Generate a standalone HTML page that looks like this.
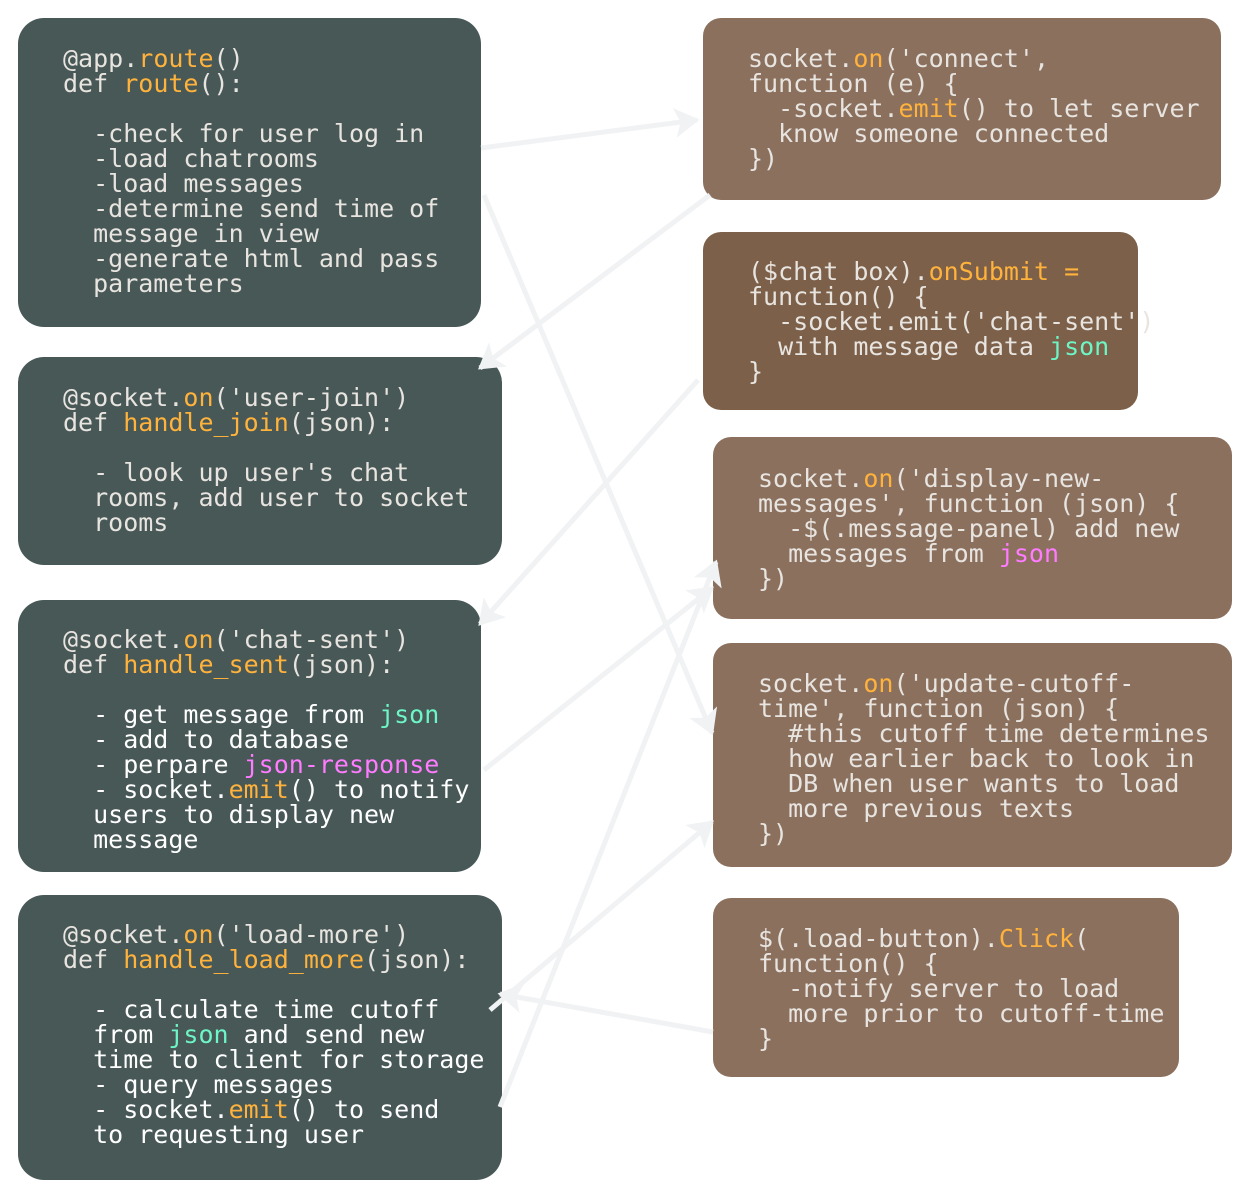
<!DOCTYPE html>
<html><head><meta charset="utf-8"><style>
body{margin:0;width:1240px;height:1195px;background:#fff;position:relative;overflow:hidden;font-family:"DejaVu Sans Mono","Liberation Mono",monospace;}
.b{position:absolute;border-radius:26px;}
.d{background:#475857}.r{background:#8b705e}.r2{background:#7c6049}
pre{position:absolute;margin:0;font-family:"DejaVu Sans Mono","Liberation Mono",monospace;font-size:25px;line-height:25px;color:#e8e4e0;}
.o{color:#ffb23c}.g{color:#6ef5c6}.m{color:#ff7bff}.w{color:#fff}
svg{position:absolute;left:0;top:0}
</style></head><body>
<div class="b d" style="left:18px;top:18px;width:463px;height:309px"></div>
<div class="b d" style="left:18px;top:357px;width:484px;height:208px"></div>
<div class="b d" style="left:18px;top:600px;width:463px;height:272px"></div>
<div class="b d" style="left:18px;top:895px;width:484px;height:285px"></div>
<div class="b r" style="left:703px;top:18px;width:518px;height:182px;border-radius:18px"></div>
<div class="b r2" style="left:703px;top:232px;width:435px;height:178px;border-radius:18px"></div>
<div class="b r" style="left:713px;top:437px;width:519px;height:182px;border-radius:18px"></div>
<div class="b r" style="left:713px;top:643px;width:519px;height:224px;border-radius:18px"></div>
<div class="b r" style="left:713px;top:898px;width:466px;height:179px;border-radius:18px"></div>

<pre style="left:63px;top:46px">@app.<span class="o">route</span>()
def <span class="o">route</span>():

  -check for user log in
  -load chatrooms
  -load messages
  -determine send time of
  message in view
  -generate html and pass
  parameters</pre>
<pre style="left:63px;top:385px">@socket.<span class="o">on</span>('user-join')
def <span class="o">handle_join</span>(json):

  - look up user's chat
  rooms, add user to socket
  rooms</pre>
<pre style="left:63px;top:627px">@socket.<span class="o">on</span>('chat-sent')
def <span class="o">handle_sent</span>(json):
<span class="w">
  - get message from <span class="g">json</span>
  - add to database
  - perpare <span class="m">json-response</span>
  - socket.<span class="o">emit</span>() to notify
  users to display new
  message</span></pre>
<pre style="left:63px;top:922px">@socket.<span class="o">on</span>('load-more')
def <span class="o">handle_load_more</span>(json):
<span class="w">
  - calculate time cutoff
  from <span class="g">json</span> and send new
  time to client for storage
  - query messages
  - socket.<span class="o">emit</span>() to send
  to requesting user</span></pre>
<pre style="left:748px;top:46px">socket.<span class="o">on</span>('connect',
function (e) {
  -socket.<span class="o">emit</span>() to let server
  know someone connected
})</pre>
<pre style="left:748px;top:259px">($chat box).<span class="o">onSubmit =</span>
function() {
  -socket.emit('chat-sent')
  with message data <span class="g">json</span>
}</pre>
<pre style="left:758px;top:466px">socket.<span class="o">on</span>('display-new-
messages', function (json) {
  -$(.message-panel) add new
  messages from <span class="m">json</span>
})</pre>
<pre style="left:758px;top:671px">socket.<span class="o">on</span>('update-cutoff-
time', function (json) {
  #this cutoff time determines
  how earlier back to look in
  DB when user wants to load
  more previous texts
})</pre>
<pre style="left:758px;top:926px">$(.load-button).<span class="o">Click</span>(
function() {
  -notify server to load
  more prior to cutoff-time
}</pre>

<svg width="1240" height="1195">
<defs><marker id="a" markerWidth="6" markerHeight="6" refX="4.5" refY="3" orient="auto" markerUnits="strokeWidth"><path d="M0,0 L5,3 L0,6 L1.2,3 Z" fill="#f0f2f4"/></marker></defs>
<g stroke="#f0f2f4" stroke-width="5" fill="none" marker-end="url(#a)">
<line x1="481" y1="148" x2="697" y2="120"/>
<line x1="710" y1="195" x2="480" y2="368"/>
<line x1="484" y1="195" x2="712" y2="733"/>
<line x1="698" y1="380" x2="480" y2="624"/>
<line x1="484" y1="770" x2="712" y2="588"/>
<line x1="500" y1="1107" x2="716" y2="562"/>
<line x1="490" y1="1010" x2="712" y2="822"/>
<line x1="713" y1="1032" x2="500" y2="994"/>
</g></svg>
</body></html>
